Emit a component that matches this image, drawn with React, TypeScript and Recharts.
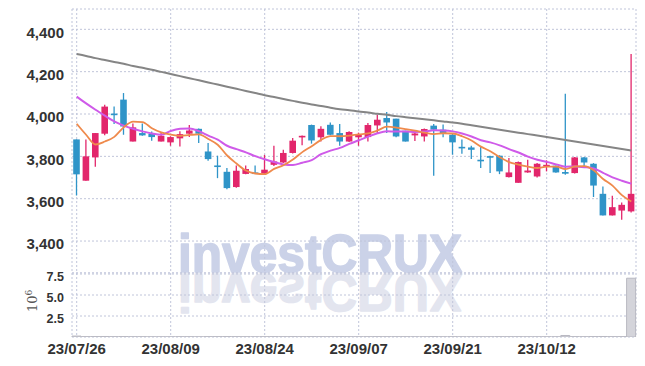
import React from 'react';
import { ComposedChart, Bar, Line, XAxis, YAxis, CartesianGrid, ReferenceArea } from 'recharts';

const RED = '#e2266b';
const BLUE = '#2f94c8';
const FONT = "'Liberation Sans Narrow', 'Liberation Sans', sans-serif";
const GRID = '#c0c5da';
const FRAME = '#cdcdcd';

const dates = [
  '23/07/26', '23/07/27', '23/07/28', '23/07/31', '23/08/01', '23/08/02', '23/08/03', '23/08/04', '23/08/07', '23/08/08',
  '23/08/09', '23/08/10', '23/08/11', '23/08/14', '23/08/16', '23/08/17', '23/08/18', '23/08/21', '23/08/22', '23/08/23',
  '23/08/24', '23/08/25', '23/08/28', '23/08/29', '23/08/30', '23/08/31', '23/09/01', '23/09/04', '23/09/05', '23/09/06',
  '23/09/07', '23/09/08', '23/09/11', '23/09/12', '23/09/13', '23/09/14', '23/09/15', '23/09/18', '23/09/19', '23/09/20',
  '23/09/21', '23/09/22', '23/09/25', '23/09/26', '23/09/27', '23/10/04', '23/10/05', '23/10/06', '23/10/10', '23/10/11',
  '23/10/12', '23/10/13', '23/10/16', '23/10/17', '23/10/18', '23/10/19', '23/10/20', '23/10/23', '23/10/24', '23/10/25',
];

const tickDates = ['23/07/26', '23/08/09', '23/08/24', '23/09/07', '23/09/21', '23/10/12'];
const priceTicks = [3400, 3600, 3800, 4000, 4200, 4400];
const volumeTicks = [2500000, 5000000, 7500000];

const opens = [
  3880, 3685, 3795, 3907, 4002, 4068, 3870, 3910, 3906, 3870,
  3866, 3885, 3907, 3930, 3823, 3757, 3727, 3655, 3717, 3724,
  3718, 3760, 3771, 3816, 3890, 3948, 3890, 3949, 3910, 3870,
  3890, 3891, 3946, 3981, 3978, 3921, 3899, 3894, 3945, 3926,
  3902, 3845, 3842, 3784, 3801, 3803, 3702, 3675, 3724, 3705,
  3752, 3756, 3726, 3721, 3795, 3765, 3623, 3521, 3544, 3540,
];
const highs = [
  3880, 3880, 3910, 4044, 4036, 4099, 3955, 3955, 3917, 3910,
  3895, 3918, 3948, 3931, 3863, 3803, 3745, 3757, 3757, 3757,
  3807, 3850, 3831, 3887, 3898, 3950, 3942, 3960, 3953, 3918,
  3912, 3957, 3996, 4009, 3978, 3921, 3912, 3932, 3953, 3950,
  3905, 3879, 3850, 3844, 3803, 3805, 3792, 3776, 3784, 3768,
  3781, 3757, 4096, 3797, 3797, 3768, 3658, 3614, 3582, 4284,
];
const lows = [
  3615, 3685, 3751, 3900, 3953, 3902, 3870, 3897, 3874, 3870,
  3850, 3847, 3891, 3863, 3779, 3697, 3645, 3652, 3715, 3718,
  3714, 3755, 3768, 3813, 3852, 3860, 3870, 3900, 3850, 3868,
  3850, 3870, 3910, 3910, 3890, 3870, 3873, 3870, 3708, 3890,
  3808, 3812, 3787, 3745, 3721, 3716, 3700, 3675, 3722, 3700,
  3729, 3722, 3713, 3719, 3745, 3608, 3521, 3521, 3500, 3535,
];
const closes = [
  3715, 3800, 3910, 4035, 3998, 3941, 3937, 3899, 3891, 3897,
  3891, 3905, 3922, 3907, 3787, 3754, 3650, 3732, 3740, 3721,
  3737, 3776, 3816, 3874, 3897, 3875, 3930, 3902, 3870, 3915,
  3905, 3948, 3973, 3960, 3894, 3870, 3908, 3929, 3926, 3910,
  3866, 3842, 3831, 3781, 3799, 3729, 3724, 3773, 3733, 3765,
  3760, 3724, 3718, 3795, 3771, 3662, 3521, 3560, 3571, 3623,
];
const ma5 = [
  3954, 3902, 3856, 3870, 3892, 3937, 3964, 3962, 3933, 3913,
  3903, 3897, 3901, 3904, 3882, 3855, 3804, 3766, 3733, 3719,
  3716, 3741, 3758, 3785, 3820, 3848, 3878, 3896, 3895, 3898,
  3904, 3908, 3922, 3940, 3936, 3929, 3921, 3912, 3905, 3909,
  3908, 3895, 3875, 3846, 3824, 3796, 3773, 3761, 3752, 3745,
  3751, 3751, 3740, 3752, 3754, 3734, 3693, 3662, 3617, 3587,
];
const ma10 = [
  4082, 4050, 4020, 3992, 3965, 3945, 3930, 3918, 3908, 3902,
  3920, 3930, 3932, 3919, 3898, 3879, 3850, 3834, 3819, 3801,
  3786, 3773, 3762, 3759, 3770, 3782, 3810, 3827, 3840, 3859,
  3876, 3893, 3909, 3918, 3917, 3917, 3915, 3917, 3923, 3922,
  3918, 3908, 3894, 3876, 3866, 3852, 3834, 3818, 3799, 3784,
  3774, 3762, 3751, 3752, 3749, 3743, 3722, 3701, 3685, 3671,
];
const maLong = [
  4283, 4274, 4264, 4255, 4246, 4237, 4227, 4218, 4209, 4199,
  4189, 4179, 4169, 4159, 4149, 4139, 4129, 4119, 4109, 4099,
  4089, 4080, 4071, 4062, 4053, 4045, 4038, 4030, 4023, 4018,
  4012, 4007, 4001, 3996, 3990, 3985, 3980, 3975, 3970, 3965,
  3960, 3954, 3947, 3940, 3933, 3926, 3919, 3912, 3905, 3898,
  3891, 3884, 3877, 3870, 3863, 3856, 3849, 3842, 3835, 3828,
];
const volumes = [
  110000, 40000, 50000, 60000, 40000, 50000, 30000, 30000, 20000, 20000,
  20000, 30000, 30000, 20000, 40000, 40000, 50000, 40000, 30000, 20000,
  30000, 40000, 30000, 40000, 30000, 40000, 30000, 30000, 30000, 20000,
  20000, 30000, 40000, 30000, 30000, 30000, 20000, 20000, 50000, 20000,
  30000, 20000, 20000, 20000, 20000, 30000, 30000, 30000, 20000, 20000,
  20000, 20000, 180000, 40000, 30000, 50000, 60000, 40000, 40000, 7000000,
];

const data = dates.map((date, i) => ({
  date,
  open: opens[i],
  high: highs[i],
  low: lows[i],
  close: closes[i],
  range: [lows[i], highs[i]],
  ma5: ma5[i],
  ma10: ma10[i],
  maLong: maLong[i],
  volume: volumes[i],
}));

const Candle = (props: any) => {
  const { x, y, width, height, payload } = props;
  if (!payload || x == null) return null;
  const { open, close, high, low } = payload;
  const top = Math.min(y, y + height);
  const h = Math.abs(height);
  const ratio = high === low ? 0 : h / (high - low);
  const color = close >= open ? RED : BLUE;
  const cx = x + width / 2;
  const bTop = top + (high - Math.max(open, close)) * ratio;
  const bBot = top + (high - Math.min(open, close)) * ratio;
  const bw = 6.6;
  return (
    <g>
      <line x1={cx} x2={cx} y1={top} y2={top + h} stroke={color} strokeWidth={1.3} />
      <rect x={cx - bw / 2} y={bTop} width={bw} height={Math.max(1.6, bBot - bTop)} fill={color} />
    </g>
  );
};

const PriceTick = (props: any) => {
  const { x, y, payload } = props;
  return (
    <text x={x} y={y + 3} dy="0.355em" textAnchor="end" fill="#333" fontSize={15} fontWeight="bold" fontFamily={FONT}>
      {Number(payload.value).toLocaleString('en-US')}
    </text>
  );
};

const VolTick = (props: any) => {
  const { x, y, payload } = props;
  return (
    <text x={x} y={y + 3} dy="0.355em" textAnchor="end" fill="#333" fontSize={12.5} fontWeight="bold" fontFamily={FONT}>
      {(Number(payload.value) / 1e6).toFixed(1)}
    </text>
  );
};

const VolUnit = () => (
  <text transform="translate(37,49) rotate(-90)" fill="#555" fontSize={13} fontFamily="'DejaVu Serif', serif">
    10<tspan dy={-5} fontSize={9}>6</tspan>
  </text>
);

const WM_FONT = "'Liberation Sans', sans-serif";

export default function App() {
  return (
    <div style={{ position: 'absolute', left: 0, top: 0, width: 645, height: 366, background: '#fff', fontFamily: FONT }}>
      <svg width={645} height={366} style={{ position: 'absolute', left: 0, top: 0 }}>
        <text x={178} y={272} fontSize={54} fontWeight="bold" fontFamily={WM_FONT} fill="#cbd2e8" stroke="#cbd2e8" strokeWidth={1.6} strokeLinejoin="round" textLength={284} lengthAdjust="spacingAndGlyphs">
          investCRUX
        </text>
        <g transform="translate(0,546) scale(1,-1)">
          <text x={178} y={272} fontSize={54} fontWeight="bold" fontFamily={WM_FONT} fill="#e3e5ef" stroke="#e3e5ef" strokeWidth={1.6} strokeLinejoin="round" textLength={284} lengthAdjust="spacingAndGlyphs">
            investCRUX
          </text>
        </g>
      </svg>
      <div style={{ position: 'absolute', left: 0, top: 0 }}>
        <ComposedChart width={645} height={273} data={data} margin={{ top: 9, right: 9, left: 0, bottom: 0 }} barCategoryGap={0}>
          <CartesianGrid stroke={GRID} strokeDasharray="2 2" />
          <XAxis dataKey="date" hide ticks={tickDates} interval={0} />
          <YAxis domain={[3249, 4496]} ticks={priceTicks} interval={0} allowDataOverflow width={72} tickLine={false} axisLine={false} tick={<PriceTick />} />
          <ReferenceArea fill="none" stroke={FRAME} strokeOpacity={1} ifOverflow="visible" />
          <Bar dataKey="range" shape={<Candle />} isAnimationActive={false} />
          <Line dataKey="maLong" type="monotone" stroke="#858585" strokeWidth={2} dot={false} isAnimationActive={false} />
          <Line dataKey="ma10" type="monotone" stroke="#cf5ae9" strokeWidth={2} dot={false} isAnimationActive={false} />
          <Line dataKey="ma5" type="monotone" stroke="#ef8a4c" strokeWidth={1.8} dot={false} isAnimationActive={false} />
        </ComposedChart>
      </div>
      <div style={{ position: 'absolute', left: 0, top: 263 }}>
        <ComposedChart width={645} height={103} data={data} margin={{ top: 10, right: 9, left: 0, bottom: 0 }} barCategoryGap={0}>
          <CartesianGrid stroke={GRID} strokeDasharray="2 2" />
          <XAxis dataKey="date" ticks={tickDates} interval={0} height={29} tickLine={false} axisLine={false} tickMargin={0}
            tick={{ fill: '#333', fontSize: 15, fontWeight: 'bold', fontFamily: FONT }} />
          <YAxis domain={[0, 7620000]} ticks={volumeTicks} interval={0} allowDataOverflow width={72} tickLine={false} axisLine={false} tick={<VolTick />}
            label={{ content: <VolUnit /> }} />
          <ReferenceArea fill="none" stroke={FRAME} strokeOpacity={1} ifOverflow="visible" />
          <Bar dataKey="volume" fill="#d4d4da" stroke="#b9b9c2" strokeWidth={1} isAnimationActive={false} />
        </ComposedChart>
      </div>
    </div>
  );
}
